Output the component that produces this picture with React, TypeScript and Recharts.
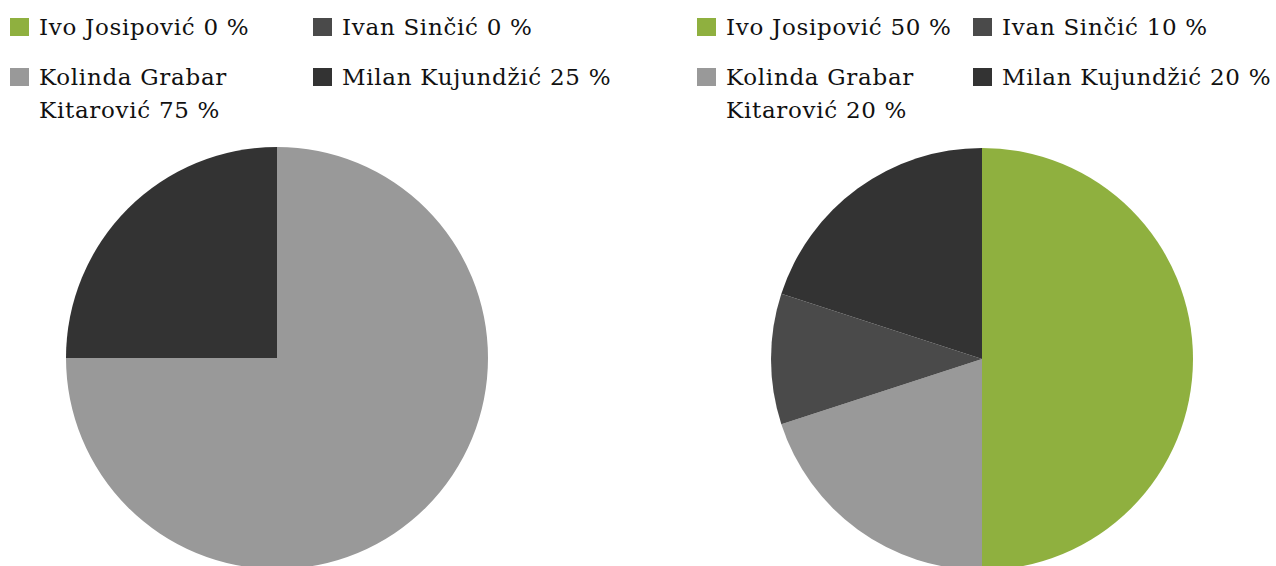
import React from 'react'
import { PieChart, Pie, Cell } from 'recharts'

const candidates = ['Ivo Josipović', 'Kolinda Grabar Kitarović', 'Ivan Sinčić', 'Milan Kujundžić']
const leftShares = [0, 75, 0, 25]
const rightShares = [50, 20, 10, 20]
const COLORS = ['#8FB03F', '#999999', '#4A4A4A', '#333333']

// legend slot for each candidate: [column, row]
const legendSlots = [[0, 0], [0, 1], [1, 0], [1, 1]]

const font = '"DejaVu Serif", serif'

function Legend({ shares, x, colX, textW }: { shares: number[]; x: number; colX: number; textW: number }) {
  return (
    <>
      {candidates.map((name, i) => {
        const [col, row] = legendSlots[i]
        return (
          <div
            key={name}
            style={{
              position: 'absolute',
              left: x + col * colX,
              top: row === 0 ? 11 : 61,
              display: 'flex',
              alignItems: 'flex-start',
              fontFamily: font,
              fontSize: 23,
              letterSpacing: 0.7,
              lineHeight: '33px',
              color: '#111',
            }}
          >
            <div style={{ width: 19, height: 18, background: COLORS[i], marginTop: 7, marginRight: 10, flexShrink: 0 }} />
            <div style={col === 0 ? { maxWidth: textW } : { whiteSpace: 'nowrap' }}>{name} {shares[i]} %</div>
          </div>
        )
      })}
    </>
  )
}

export default function App() {
  const left = candidates.map((name, i) => ({ name, value: leftShares[i] }))
  const right = candidates.map((name, i) => ({ name, value: rightShares[i] }))
  return (
    <div style={{ position: 'relative', width: 1276, height: 566, overflow: 'hidden', background: '#fff' }}>
      <style>{'body{margin:0}'}</style>
      <PieChart width={1276} height={566} margin={{ top: 0, right: 0, bottom: 0, left: 0 }}
        style={{ position: 'absolute', left: 0, top: 0 }}>
        <Pie data={left} dataKey="value" nameKey="name" cx={277} cy={358} outerRadius={211}
          startAngle={90} endAngle={-270} stroke="none" isAnimationActive={false}>
          {left.map((d, i) => <Cell key={d.name} fill={COLORS[i]} />)}
        </Pie>
        <Pie data={right} dataKey="value" nameKey="name" cx={982} cy={359} outerRadius={211}
          startAngle={90} endAngle={-270} stroke="none" isAnimationActive={false}>
          {right.map((d, i) => <Cell key={d.name} fill={COLORS[i]} />)}
        </Pie>
      </PieChart>
      <Legend shares={leftShares} x={10} colX={303} textW={262} />
      <Legend shares={rightShares} x={697} colX={276} textW={240} />
    </div>
  )
}
